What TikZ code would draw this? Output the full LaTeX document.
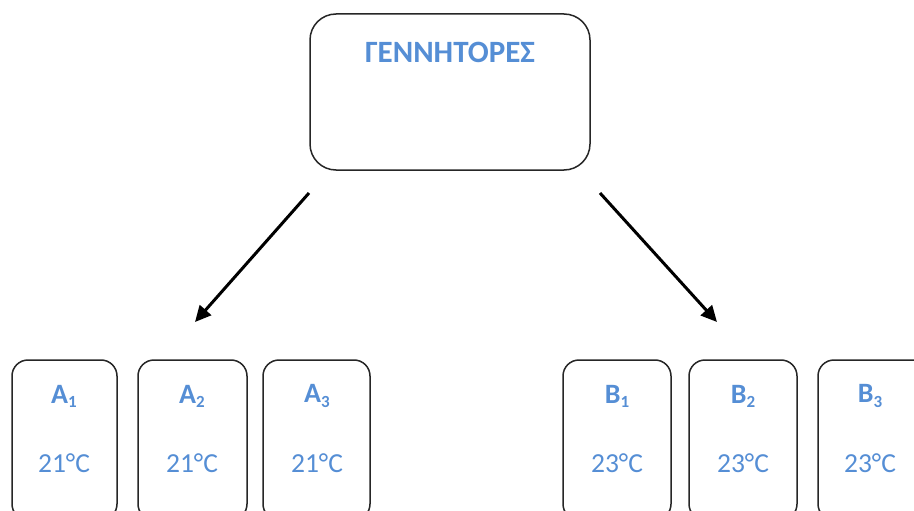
\documentclass[tikz,border=0pt]{standalone}
\usepackage{fontspec}
\setmainfont{Carlito}
\usetikzlibrary{arrows.meta}
\definecolor{txtblue}{RGB}{85,142,213}
\tikzset{
  topbox/.style={draw=black!85, line width=1.5pt, rounded corners=26pt},
  roombox/.style={draw=black!85, line width=1.5pt, rounded corners=16pt},
  title/.style={text=txtblue, font=\fontsize{31}{34}\selectfont\bfseries, inner sep=0pt},
  lbl/.style={text=txtblue, font=\fontsize{28}{30}\selectfont\bfseries, inner sep=0pt},
  temp/.style={text=txtblue, font=\fontsize{27.5}{30}\selectfont, inner sep=0pt},
  arr/.style={line width=3pt, -{Triangle[length=16pt, width=15pt]}}
}
\newcommand{\roomlabel}[2]{#1\raisebox{-0.3ex}{\fontsize{17}{18}\selectfont #2}}
\begin{document}
\begin{tikzpicture}[x=1pt, y=-1pt]
\useasboundingbox (0,0) rectangle (914,511);
\clip (0,0) rectangle (914,511);
\fill[white] (0,0) rectangle (914,511);

% parent box
\draw[topbox] (310,14) rectangle (590,170);
\node[title, anchor=center] (parent) at (450,52) {ΓΕΝΝΗΤΟΡΕΣ};

% rooms, group A
\draw[roombox] (12,360) rectangle (117,520);
\draw[roombox] (138,360) rectangle (247,520);
\draw[roombox] (263,360) rectangle (370,520);
% rooms, group B
\draw[roombox] (563,360) rectangle (671,520);
\draw[roombox] (689,360) rectangle (797,520);
\draw[roombox] (818,360) rectangle (930,520);

\node[lbl] (a1) at (64,396) {\roomlabel{A}{1}};
\node[lbl] (a2) at (192,396) {\roomlabel{A}{2}};
\node[lbl] (a3) at (317,396) {\roomlabel{A}{3}};
\node[lbl] (b1) at (617,396) {\roomlabel{B}{1}};
\node[lbl] (b2) at (743,396) {\roomlabel{B}{2}};
\node[lbl] (b3) at (870,396) {\roomlabel{B}{3}};

\node[temp] (ta1) at (64,463) {21°C};
\node[temp] (ta2) at (192,463) {21°C};
\node[temp] (ta3) at (317,463) {21°C};
\node[temp] (tb1) at (617,463) {23°C};
\node[temp] (tb2) at (743,463) {23°C};
\node[temp] (tb3) at (870,463) {23°C};

% arrows from the parent box down to each group
\coordinate (lstart) at (309,193);
\coordinate (lend) at (195,322);
\coordinate (rstart) at (600,193);
\coordinate (rend) at (717,322);
\draw[arr] (lstart) -- (lend);
\draw[arr] (rstart) -- (rend);
\end{tikzpicture}
\end{document}
